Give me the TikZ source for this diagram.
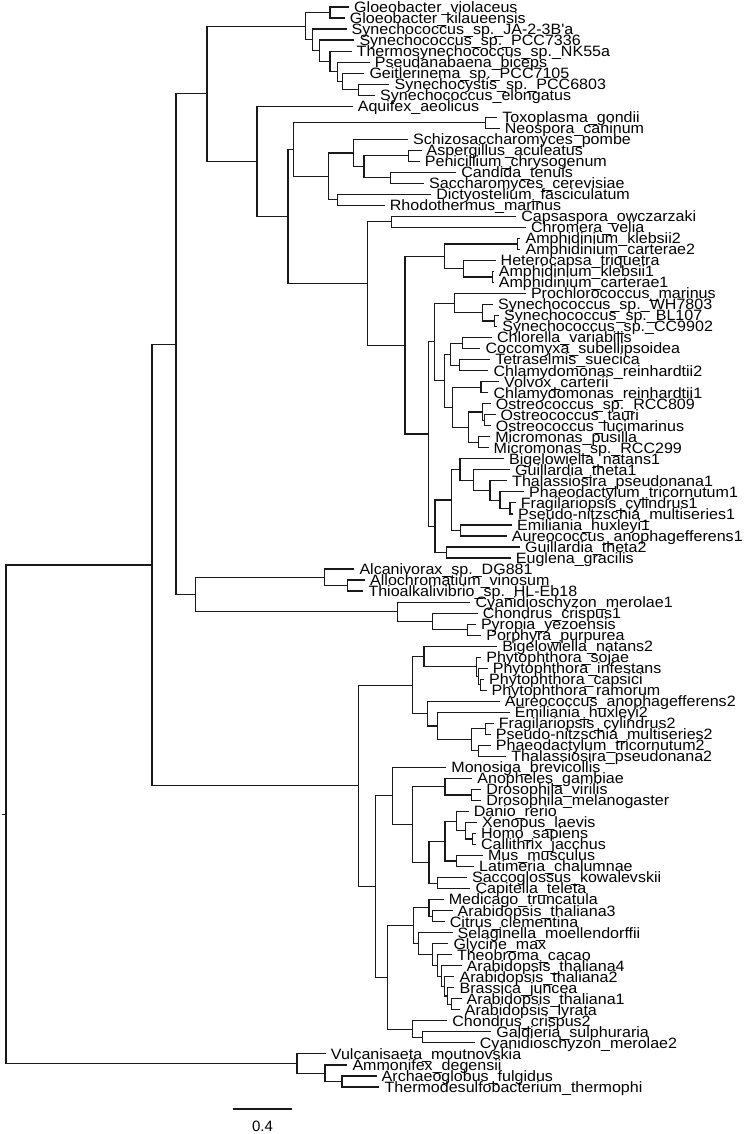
\documentclass[tikz,border=0pt]{standalone}
\usepackage{fontspec}
\setmainfont{Liberation Sans}
\newfontfamily\tipfont[FakeStretch=1.07]{Liberation Sans}
\usetikzlibrary{calc}

% clade: name, x of the split, upper child, lower child
\newcommand{\clade}[4]{%
  \path let \p1=($(#3)!0.5!(#4)$) in (#2pt,\y1) coordinate (#1);
  \draw[branch] (#3) -| (#1) |- (#4);
}

\begin{document}
\begin{tikzpicture}[x=1pt, y=-1pt,
    branch/.style={line width=1.15pt, color=black!90},
    leaf/.style={anchor=base west, inner sep=0pt, xshift=5pt, yshift=-5.35pt,
      font=\tipfont\fontsize{15}{15}\selectfont}]
  \useasboundingbox (0,0) rectangle (747,1134);

  % tips: label x / name / label
  \foreach \lx/\nm/\txt [count=\i] in {
      355.0/gvio/Gloeobacter\_violaceus,
      350.7/gkil/Gloeobacter\_kilaueensis,
      352.5/sja/Synechococcus\_sp.\_JA-2-3B'a,
      360.3/sptt/Synechococcus\_sp.\_PCC7336,
      357.5/tnk/Thermosynechococcus\_sp.\_NK55a,
      375.7/pbic/Pseudanabaena\_biceps,
      370.3/geit/Geitlerinema\_sp.\_PCC7105,
      395.4/scys/Synechocystis\_sp.\_PCC6803,
      381.0/selo/Synechococcus\_elongatus,
      358.6/aqui/Aquifex\_aeolicus,
      503.2/toxo/Toxoplasma\_gondii,
      505.7/neos/Neospora\_caninum,
      414.0/spom/Schizosaccharomyces\_pombe,
      427.5/aspe/Aspergillus\_aculeatus,
      425.7/peni/Penicillium\_chrysogenum,
      462.2/cand/Candida\_tenuis,
      430.0/sacc/Saccharomyces\_cerevisiae,
      437.1/dict/Dictyostelium\_fasciculatum,
      390.7/rhod/Rhodothermus\_marinus,
      522.2/caps/Capsaspora\_owczarzaki,
      531.8/chro/Chromera\_velia,
      526.4/akltwo/Amphidinium\_klebsii2,
      526.4/acatwo/Amphidinium\_carterae2,
      501.5/htri/Heterocapsa\_triquetra,
      499.7/aklone/Amphidinium\_klebsii1,
      499.7/acaone/Amphidinium\_carterae1,
      531.8/pmar/Prochlorococcus\_marinus,
      498.9/swh/Synechococcus\_sp.\_WH7803,
      505.0/sbl/Synechococcus\_sp.\_BL107,
      503.2/scc/Synechococcus\_sp.\_CC9902,
      497.8/cvar/Chlorella\_variabilis,
      486.4/csub/Coccomyxa\_subellipsoidea,
      496.1/tsue/Tetraselmis\_suecica,
      494.3/creitwo/Chlamydomonas\_reinhardtii2,
      505.0/vcar/Volvox\_carterii,
      494.3/creione/Chlamydomonas\_reinhardtii1,
      496.7/orcc/Ostreococcus\_sp.\_RCC809,
      501.5/otau/Ostreococcus\_tauri,
      496.7/oluc/Ostreococcus\_lucimarinus,
      496.1/mpus/Micromonas\_pusilla,
      494.5/mrcc/Micromonas\_sp.\_RCC299,
      510.0/bnatone/Bigelowiella\_natans1,
      516.0/gtheone/Guillardia\_theta1,
      513.0/tpseone/Thalassiosira\_pseudonana1,
      530.0/ptrione/Phaeodactylum\_tricornutum1,
      521.7/fcylone/Fragilariopsis\_cylindrus1,
      519.0/pmulone/Pseudo-nitzschia\_multiseries1,
      518.0/ehuxone/Emiliania\_huxleyi1,
      512.7/aanoone/Aureococcus\_anophagefferens1,
      526.0/gthetwo/Guillardia\_theta2,
      516.7/egra/Euglena\_gracilis,
      360.3/alca/Alcanivorax\_sp.\_DG881,
      371.0/avin/Allochromatium\_vinosum,
      369.3/thio/Thioalkalivibrio\_sp.\_HL-Eb18,
      476.4/cmerone/Cyanidioschyzon\_merolae1,
      483.6/ccrione/Chondrus\_crispus1,
      481.8/pyez/Pyropia\_yezoensis,
      487.1/ppur/Porphyra\_purpurea,
      503.2/bnattwo/Bigelowiella\_natans2,
      487.1/psoj/Phytophthora\_sojae,
      493.6/pinf/Phytophthora\_infestans,
      490.0/pcap/Phytophthora\_capsici,
      492.5/pram/Phytophthora\_ramorum,
      505.7/aanotwo/Aureococcus\_anophagefferens2,
      515.7/ehuxtwo/Emiliania\_huxleyi2,
      499.7/fcyltwo/Fragilariopsis\_cylindrus2,
      496.7/pmultwo/Pseudo-nitzschia\_multiseries2,
      496.7/ptritwo/Phaeodactylum\_tricornutum2,
      512.2/tpsetwo/Thalassiosira\_pseudonana2,
      452.2/mbre/Monosiga\_brevicollis,
      478.2/agam/Anopheles\_gambiae,
      487.1/dvir/Drosophila\_virilis,
      487.1/dmel/Drosophila\_melanogaster,
      474.6/drer/Danio\_rerio,
      482.9/xlae/Xenopus\_laevis,
      481.8/hsap/Homo\_sapiens,
      481.8/cjac/Callithrix\_jacchus,
      488.9/mmus/Mus\_musculus,
      480.0/lcha/Latimeria\_chalumnae,
      472.9/skow/Saccoglossus\_kowalevskii,
      476.4/ctel/Capitella\_teleta,
      449.6/mtru/Medicago\_truncatula,
      458.5/athathree/Arabidopsis\_thaliana3,
      450.7/ccle/Citrus\_clementina,
      458.5/smoe/Selaginella\_moellendorffii,
      454.3/gmax/Glycine\_max,
      457.8/tcac/Theobroma\_cacao,
      467.5/athafour/Arabidopsis\_thaliana4,
      460.4/athatwo/Arabidopsis\_thaliana2,
      460.4/bjun/Brassica\_juncea,
      467.5/athaone/Arabidopsis\_thaliana1,
      465.7/alyr/Arabidopsis\_lyrata,
      453.2/ccritwo/Chondrus\_crispus2,
      497.1/gsul/Galdieria\_sulphuraria,
      480.7/cmertwo/Cyanidioschyzon\_merolae2,
      331.7/vmou/Vulcanisaeta\_moutnovskia,
      353.3/adeg/Ammonifex\_degensii,
      382.5/aful/Archaeoglobus\_fulgidus,
      385.4/tthe/Thermodesulfobacterium\_thermophi}{
    \coordinate (\nm) at ({\lx-6},{7+(\i-1)*11.02});
    \node[leaf] (\nm-l) at (\nm) {\txt};
  }

  % cyanobacteria
  \clade{gloeo}{330}{gvio}{gkil}
  \clade{cyh}{358.6}{scys}{selo}
  \clade{cyg}{342.5}{geit}{cyh}
  \clade{cyf}{337.1}{pbic}{cyg}
  \clade{cye}{330}{tnk}{cyf}
  \clade{cyd}{319.3}{sptt}{cye}
  \clade{cyc}{312.9}{sja}{cyd}
  \clade{cyano}{305.7}{gloeo}{cyc}

  % fungi and friends
  \clade{apic}{485.3}{toxo}{neos}
  \clade{aspen}{408.5}{aspe}{peni}
  \clade{yeast}{390.7}{cand}{sacc}
  \clade{asco}{364}{aspen}{yeast}
  \clade{fungi}{353.9}{spom}{asco}
  \clade{dicrho}{337.1}{dict}{rhod}
  \clade{fudi}{328.2}{fungi}{dicrho}
  \clade{apfu}{293.5}{apic}{fudi}

  % plastid group one
  \clade{capchr}{391.7}{caps}{chro}
  \clade{amphtwo}{517.5}{akltwo}{acatwo}
  \clade{amphone}{492.5}{aklone}{acaone}
  \clade{hetam}{463.9}{htri}{amphone}
  \clade{dino}{444.3}{amphtwo}{hetam}
  \clade{synmb}{494.3}{sbl}{scc}
  \clade{synm}{482.9}{swh}{synmb}
  \clade{prosyn}{454.3}{pmar}{synm}
  \clade{chlcoc}{462.2}{cvar}{csub}
  \clade{tetchl}{459.6}{tsue}{creitwo}
  \clade{trebo}{450.7}{chlcoc}{tetchl}
  \clade{volchl}{481}{vcar}{creione}
  \clade{ostb}{484.3}{otau}{oluc}
  \clade{ostr}{482.9}{orcc}{ostb}
  \clade{micr}{478.2}{mpus}{mrcc}
  \clade{mamie}{468.6}{ostr}{micr}
  \clade{chlmam}{452.5}{volchl}{mamie}
  \clade{green}{444.3}{trebo}{chlmam}
  \clade{cygr}{434.3}{prosyn}{green}
  \clade{fpone}{510}{fcylone}{pmulone}
  \clade{pfpone}{500}{ptrione}{fpone}
  \clade{diatone}{490}{tpseone}{pfpone}
  \clade{gdiaone}{473.3}{gtheone}{diatone}
  \clade{bgdone}{460}{bnatone}{gdiaone}
  \clade{eaone}{460.7}{ehuxone}{aanoone}
  \clade{chromone}{451.7}{bgdone}{eaone}
  \clade{gueu}{446.7}{gthetwo}{egra}
  \clade{chrgu}{435}{chromone}{gueu}
  \clade{plast}{428.2}{cygr}{chrgu}
  \clade{dipl}{405}{dino}{plast}
  \clade{capl}{367.5}{capchr}{dipl}
  \clade{euk}{288}{apfu}{capl}
  \clade{aqeu}{257}{aqui}{euk}
  \clade{top}{207}{cyano}{aqeu}

  % proteobacteria and red algae
  \clade{alth}{347.2}{avin}{thio}
  \clade{gamma}{324.7}{alca}{alth}
  \clade{pypo}{467.5}{pyez}{ppur}
  \clade{chpp}{432.9}{ccrione}{pypo}
  \clade{redone}{397.8}{cmerone}{chpp}
  \clade{gare}{195.5}{gamma}{redone}
  \clade{upper}{176}{top}{gare}

  % plastid group two
  \clade{phcr}{480.5}{pcap}{pram}
  \clade{phicr}{478.6}{pinf}{phcr}
  \clade{phyt}{476.4}{psoj}{phicr}
  \clade{biph}{424}{bnattwo}{phyt}
  \clade{fptwo}{485.3}{fcyltwo}{pmultwo}
  \clade{pttwo}{478.2}{ptritwo}{tpsetwo}
  \clade{diattwo}{471.8}{fptwo}{pttwo}
  \clade{emdi}{437.8}{ehuxtwo}{diattwo}
  \clade{auem}{427.1}{aanotwo}{emdi}
  \clade{strtwo}{412.9}{biph}{auem}

  % animals
  \clade{dros}{471.1}{dvir}{dmel}
  \clade{insect}{445}{agam}{dros}
  \clade{hoca}{472.9}{hsap}{cjac}
  \clade{xhc}{465.7}{xlae}{hoca}
  \clade{dxhc}{456.8}{drer}{xhc}
  \clade{mula}{456.8}{mmus}{lcha}
  \clade{vert}{445}{dxhc}{mula}
  \clade{saca}{437.1}{skow}{ctel}
  \clade{deut}{429}{vert}{saca}
  \clade{bila}{412.9}{insect}{deut}
  \clade{opis}{392.5}{mbre}{bila}

  % plants and red algae
  \clade{atci}{432.9}{athathree}{ccle}
  \clade{meat}{429}{mtru}{atci}
  \clade{atly}{451.5}{athaone}{alyr}
  \clade{brat}{447.1}{bjun}{atly}
  \clade{attwo}{444.3}{athatwo}{brat}
  \clade{atfour}{441.7}{athafour}{attwo}
  \clade{theo}{437.1}{tcac}{atfour}
  \clade{glyc}{432.9}{gmax}{theo}
  \clade{sela}{418.6}{smoe}{glyc}
  \clade{plant}{413.9}{meat}{sela}
  \clade{gacy}{422.1}{gsul}{cmertwo}
  \clade{redtwo}{412.9}{ccritwo}{gacy}
  \clade{plre}{387.1}{plant}{redtwo}
  \clade{oppl}{375.7}{opis}{plre}
  \clade{lower}{358.6}{strtwo}{oppl}
  \clade{bact}{152}{upper}{lower}

  % archaea
  \clade{arth}{342}{aful}{tthe}
  \clade{amar}{325}{adeg}{arth}
  \clade{arch}{297}{vmou}{amar}
  \clade{root}{6}{bact}{arch}
  \coordinate (stub) at ($(root)+(-4,0)$);
  \draw[branch] (root) -- (stub);

  % scale bar
  \coordinate (bar-a) at (233,1109);
  \coordinate (bar-b) at (292,1109);
  \draw[branch] (bar-a) -- (bar-b);
  \node[font=\fontsize{15}{15}\selectfont, inner sep=0pt] (bar-l) at ($(bar-a)!0.5!(bar-b)+(0,17)$) {0.4};
\end{tikzpicture}
\end{document}
